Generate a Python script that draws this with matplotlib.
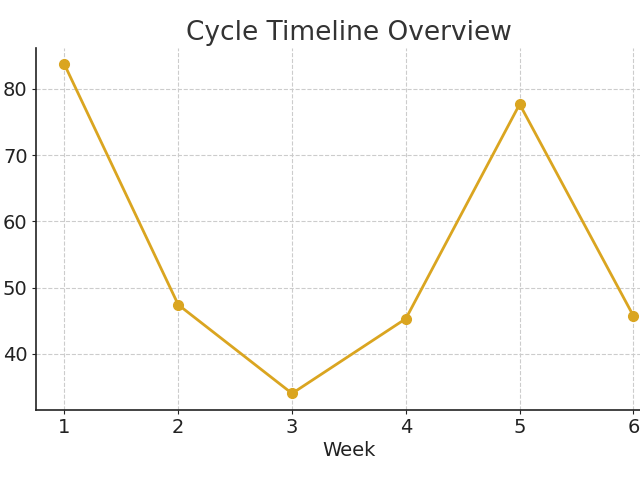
import matplotlib
matplotlib.use("Agg")
import matplotlib.pyplot as plt

weeks = [1, 2, 3, 4, 5, 6]
values = [83.7, 47.4, 34.0, 45.3, 77.7, 45.7]
x_ticks = [1, 2, 3, 4, 5, 6]
y_ticks = [40, 50, 60, 70, 80]

fig = plt.figure(figsize=(6.4, 4.8), dpi=100)
ax = fig.add_axes([0.05625, 0.146, 0.978, 0.754])

ax.plot(weeks, values, color="#DAA520", linewidth=2, marker="o", markersize=7)

ax.set_xticks(x_ticks)
ax.set_yticks(y_ticks)
ax.tick_params(labelsize=14, colors="#222222", length=3, pad=3)
ax.grid(True, linestyle="--", color="#cccccc", linewidth=0.8)
ax.spines["top"].set_visible(False)
ax.spines["right"].set_visible(False)
for s in ("left", "bottom"):
    ax.spines[s].set_linewidth(1.2)
    ax.spines[s].set_color("#222222")

ax.set_xlabel("Week", fontsize=14, color="#222222", labelpad=3)
ax.set_title("Cycle Timeline Overview", fontsize=19, color="#333333")

fig.savefig("out.png", dpi=100)
